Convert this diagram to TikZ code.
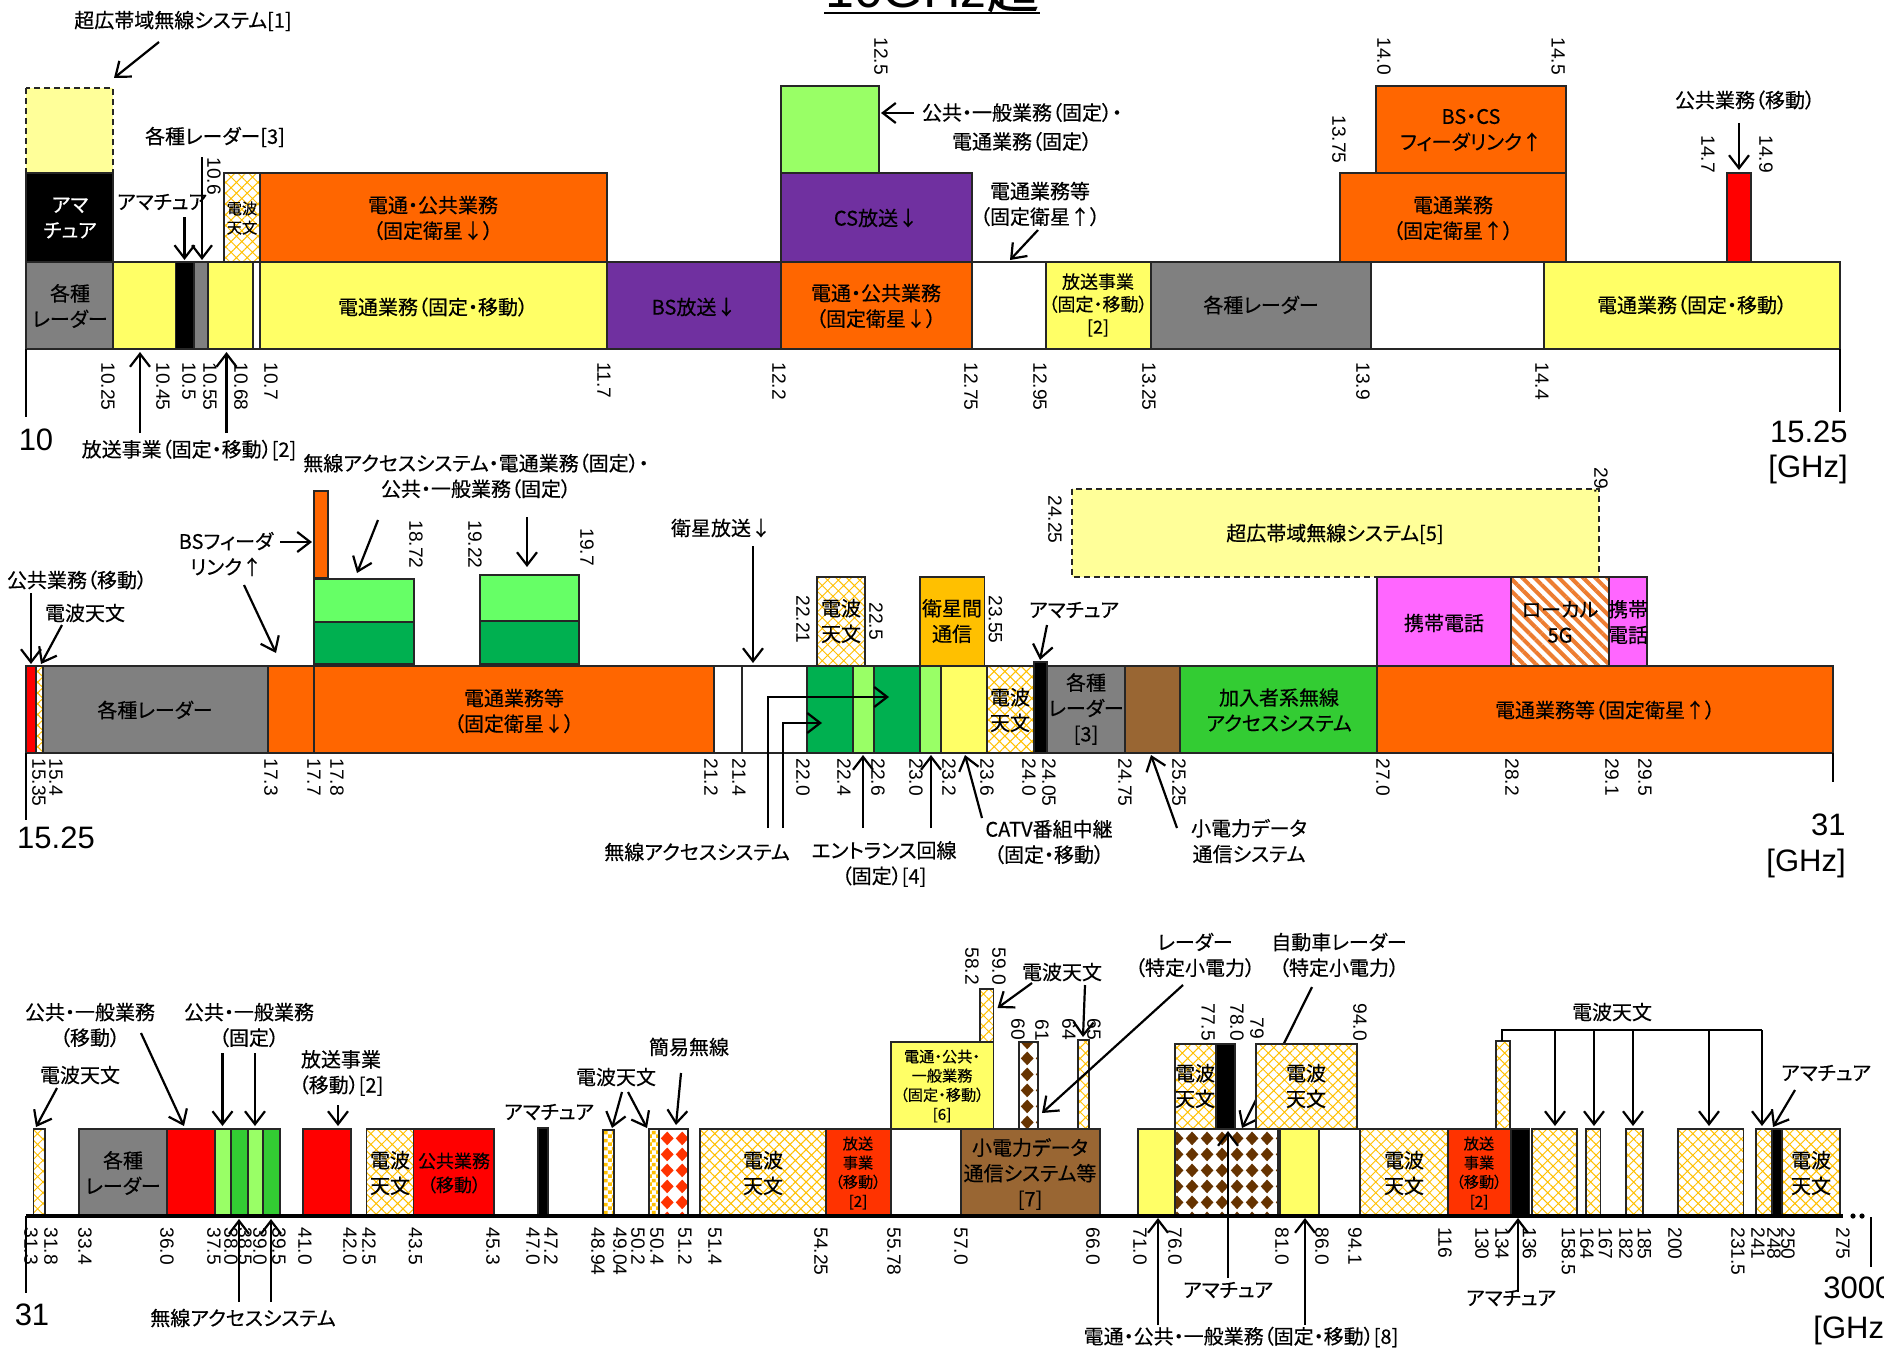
\documentclass[tikz,border=0pt]{standalone}
\usepackage{fontspec}
\setmainfont{Liberation Sans}
\newfontfamily\jp[RawFeature=+palt,FakeBold=0.35]{Noto Sans CJK JP}
\usetikzlibrary{arrows.meta,patterns,patterns.meta}

% 色
\definecolor{cYel}{HTML}{FFFF66}
\definecolor{cUwb}{HTML}{FFFF99}
\definecolor{cOra}{HTML}{FF6600}
\definecolor{cPur}{HTML}{7030A0}
\definecolor{cGry}{HTML}{808080}
\definecolor{cLgr}{HTML}{99FF66}
\definecolor{cGrn}{HTML}{66FF66}
\definecolor{cDgr}{HTML}{00B050}
\definecolor{cMgr}{HTML}{33CC33}
\definecolor{cAmb}{HTML}{FFC000}
\definecolor{cBrn}{HTML}{996633}
\definecolor{cDbr}{HTML}{663300}
\definecolor{cMag}{HTML}{FF66FF}
\definecolor{cRed}{HTML}{FF0000}
\definecolor{cRor}{HTML}{FF3300}
\definecolor{cStr}{HTML}{ED7D31}

% 模様
\pgfdeclarepatternformonly{rhombs}{\pgfpointorigin}{\pgfpoint{7.5pt}{8pt}}{\pgfpoint{7.5pt}{8pt}}{
  \pgfpathmoveto{\pgfpoint{3.75pt}{0.4pt}}
  \pgfpathlineto{\pgfpoint{7.1pt}{4pt}}
  \pgfpathlineto{\pgfpoint{3.75pt}{7.6pt}}
  \pgfpathlineto{\pgfpoint{0.4pt}{4pt}}
  \pgfpathclose\pgfusepath{fill}}
\pgfdeclarepatternformonly{smallcheck}{\pgfpointorigin}{\pgfpoint{4pt}{4pt}}{\pgfpoint{4pt}{4pt}}{
  \pgfpathrectangle{\pgfpointorigin}{\pgfpoint{2pt}{2pt}}
  \pgfpathrectangle{\pgfpoint{2pt}{2pt}}{\pgfpoint{2pt}{2pt}}
  \pgfusepath{fill}}

\begin{document}
\begin{tikzpicture}[x=0.5pt,y=-0.5pt,>={Straight Barb[length=6.5pt,width=10pt]},
  box/.style={draw=black!85,line width=0.8pt},
  uwb/.style={box,dash pattern=on 3pt off 2pt,fill=cUwb},
  astro/.style={fill=white,postaction={pattern={Hatch[angle=45,distance=3.8pt,line width=0.5pt]},pattern color=cAmb},postaction={box}},
  chk/.style={fill=white,postaction={pattern=smallcheck,pattern color=cAmb},postaction={box}},
  rdia/.style={fill=white,postaction={pattern=rhombs,pattern color=cRor},postaction={box}},
  bdia/.style={fill=white,postaction={pattern=rhombs,pattern color=cDbr},postaction={box}},
  loc/.style={fill=white,postaction={pattern={Lines[angle=-45,distance=4.3pt,line width=2pt]},pattern color=cStr},postaction={box}},
  lab/.style={inner sep=0pt,align=center,font=\jp\fontsize{10}{12.8}\selectfont},
  sml/.style={inner sep=0pt,align=center,font=\jp\fontsize{7.6}{9.6}\selectfont},
  tick/.style={rotate=-90,anchor=west,inner sep=0pt,font=\fontsize{9.6}{10}\selectfont},
  big/.style={inner sep=0pt,font=\fontsize{15.5}{17}\selectfont},
  arr/.style={->,line width=1.1pt},
  axl/.style={line width=1pt}]

\fill[white] (0,0) rectangle (1884,1354);
\useasboundingbox (0,0) rectangle (1884,1354);

% 表題
\node[anchor=base,inner sep=0pt,font=\fontsize{26}{28}\selectfont] (ttl) at (932,8) {10GHz{\jp 超}};
\draw[line width=1.2pt] (824,13) -- (1040,13);

% ===== 上段 10 - 15.25 GHz =====
\draw[uwb] (26,88) rectangle (113,173);
\draw[box,fill=black] (26,173) rectangle (113,262);
\draw[box,fill=cGry] (26,262) rectangle (113,349);
\draw[box,fill=cYel] (113,262) rectangle (175.5,349);
\draw[box,fill=black] (175.5,262) rectangle (194,349);
\draw[box,fill=cGry] (194,262) rectangle (208,349);
\draw[box,fill=cYel] (208,262) rectangle (253,349);
\draw[box,fill=white] (253,262) rectangle (260,349);
\draw[box,fill=cYel] (260,262) rectangle (607,349);
\path[astro] (224,173) rectangle (260,262);
\draw[box,fill=cOra] (260,173) rectangle (607,262);
\draw[box,fill=cPur] (607,262) rectangle (781,349);
\draw[box,fill=cLgr] (781,86) rectangle (879,173);
\draw[box,fill=cPur] (781,173) rectangle (972,262);
\draw[box,fill=cOra] (781,262) rectangle (972,349);
\draw[box,fill=white] (972,262) rectangle (1046,349);
\draw[box,fill=cYel] (1046,262) rectangle (1151,349);
\draw[box,fill=cGry] (1151,262) rectangle (1371,349);
\draw[box,fill=white] (1371,262) rectangle (1544,349);
\draw[box,fill=cYel] (1544,262) rectangle (1840,349);
\draw[box,fill=cOra] (1376,86) rectangle (1566,173);
\draw[box,fill=cOra] (1340,173) rectangle (1566,262);
\draw[box,fill=cRed] (1727,173) rectangle (1751,262);
\draw[axl] (26,349) -- (26,417);
\draw[axl] (1840,349) -- (1840,412);

\node[lab,text=white] (ama1) at (70,218) {アマ\\チュア};
\node[lab] (rad1) at (70,306) {各種\\レーダー};
\node[sml] (ast1) at (242,218) {電波\\天文};
\node[lab] (ora1) at (433,218) {電通・公共業務\\（固定衛星↓）};
\node[lab] (yel1) at (433,307) {電通業務（固定・移動）};
\node[lab] (bs1) at (694,307) {BS放送↓};
\node[lab] (cs1) at (876,218) {CS放送↓};
\node[lab] (ora2) at (876,306) {電通・公共業務\\（固定衛星↓）};
\node[lab,font=\jp\fontsize{9}{11.3}\selectfont] (yel2) at (1098,305) {放送事業\\（固定・移動）\\{[2]}};
\node[lab] (rad2) at (1261,305) {各種レーダー};
\node[lab] (yel3) at (1692,305) {電通業務（固定・移動）};
\node[lab] (ora3) at (1453,218) {電通業務\\（固定衛星↑）};
\node[lab] (bscs) at (1471,130) {BS・CS\\フィーダリンク↑};

\node[lab] (uwb1) at (183,21) {超広帯域無線システム[1]};
\draw[arr] (159,42) -- (114,78);
\node[lab] (rad3) at (215,137) {各種レーダー[3]};
\draw[arr] (202,157) -- (202,260);
\node[lab] (ama2) at (162,202) {アマチュア};
\draw[arr] (184.5,217) -- (184.5,260);
\node[lab] (hos1) at (189,450) {放送事業（固定・移動）[2]};
\draw[arr] (140,433) -- (140,352);
\draw[arr] (226.5,433) -- (226.5,352);
\node[lab,font=\jp\fontsize{10}{14.5}\selectfont] (kok1) at (1022,127) {公共・一般業務（固定）・\\電通業務（固定）};
\draw[arr] (914,113) -- (881,113);
\node[lab] (den1) at (1040,204) {電通業務等\\（固定衛星↑）};
\draw[arr] (1038,230) -- (1010,260);
\node[lab] (kok2) at (1745,100) {公共業務（移動）};
\draw[arr] (1739,123) -- (1739,170);

\node[tick] (k10-25) at (108,362) {10.25};
\node[tick] (k10-45) at (163,362) {10.45};
\node[tick] (k10-5) at (189,362) {10.5};
\node[tick] (k10-55) at (210,362) {10.55};
\node[tick] (k10-68) at (241,362) {10.68};
\node[tick] (k10-7) at (271,362) {10.7};
\node[tick] (k11-7) at (604,362) {11.7};
\node[tick] (k12-2) at (779,362) {12.2};
\node[tick] (k12-75) at (971,362) {12.75};
\node[tick] (k12-95) at (1040,362) {12.95};
\node[tick] (k13-25) at (1149,362) {13.25};
\node[tick] (k13-9) at (1363,362) {13.9};
\node[tick] (k14-4) at (1542,362) {14.4};
\node[tick] (k10-6) at (214,157) {10.6};
\node[tick] (k12-5) at (881,37) {12.5};
\node[tick] (k14-0) at (1384,37) {14.0};
\node[tick] (k14-5) at (1558,37) {14.5};
\node[tick] (k13-75) at (1339,115) {13.75};
\node[tick] (k14-7) at (1708,135) {14.7};
\node[tick] (k14-9) at (1766,135) {14.9};

\node[big] (n10) at (36,440) {10};
\node[big,anchor=east] (n15) at (1848,432) {15.25};
\node[big,anchor=east] (ghz1) at (1848,469) {[GHz]};

% ===== 中段 15.25 - 31 GHz =====
\draw[box,fill=cRed] (26,666) rectangle (36,753);
\path[astro] (36,666) rectangle (43,753);
\draw[box,fill=cGry] (43,666) rectangle (268,753);
\draw[box,fill=cOra] (268,666) rectangle (314,753);
\draw[box,fill=cOra] (314,666) rectangle (714,753);
\draw[box,fill=cOra] (314,491) rectangle (328,578);
\draw[box,fill=cGrn] (314,579) rectangle (414,622);
\draw[box,fill=cDgr] (314,622) rectangle (414,664);
\draw[box,fill=cGrn] (480,575) rectangle (579,621);
\draw[box,fill=cDgr] (480,621) rectangle (579,664);
\draw[box,fill=white] (714,666) rectangle (742,753);
\draw[box,fill=white] (742,666) rectangle (807,753);
\draw[box,fill=cDgr] (807,666) rectangle (853,753);
\draw[box,fill=cLgr] (853,666) rectangle (874,753);
\draw[box,fill=cDgr] (874,666) rectangle (920,753);
\draw[box,fill=cLgr] (920,666) rectangle (941,753);
\draw[box,fill=cYel] (941,666) rectangle (987,753);
\path[astro] (987,666) rectangle (1034,753);
\draw[box,fill=black] (1034,662) rectangle (1047,753);
\draw[box,fill=cGry] (1047,666) rectangle (1125,753);
\draw[box,fill=cBrn] (1125,666) rectangle (1180,753);
\draw[box,fill=cMgr] (1180,666) rectangle (1377,753);
\draw[box,fill=cOra] (1377,666) rectangle (1833,753);
\path[astro] (817,577) rectangle (865,666);
\draw[box,fill=cAmb] (920,577) rectangle (984.5,666);
\draw[uwb] (1072,489) rectangle (1599,577);
\draw[box,fill=cMag] (1377,577) rectangle (1511,666);
\path[loc] (1511,577) rectangle (1609,666);
\draw[box,fill=cMag] (1609,577) rectangle (1647,666);
\draw[axl] (26,753) -- (26,820);
\draw[axl] (1833,753) -- (1833,782);

\node[lab] (rad4) at (155,710) {各種レーダー};
\node[lab] (ora4) at (514,711) {電通業務等\\（固定衛星↓）};
\node[lab] (ast2) at (841,621) {電波\\天文};
\node[lab] (sat1) at (952,621) {衛星間\\通信};
\node[lab] (ast3) at (1010,710) {電波\\天文};
\node[lab] (rad5) at (1086,709) {各種\\レーダー\\{[3]}};
\node[lab] (kan1) at (1279,710) {加入者系無線\\アクセスシステム};
\node[lab] (ora5) at (1605,710) {電通業務等（固定衛星↑）};
\node[lab] (uwb2) at (1335,534) {超広帯域無線システム[5]};
\node[lab] (mob1) at (1444,623) {携帯電話};
\node[lab] (loc5) at (1560,622) {ローカル\\5G};
\node[lab] (mob2) at (1628,622) {携帯\\電話};

\node[lab] (kok3) at (77,580) {公共業務（移動）};
\draw[arr] (31,593) -- (31,664);
\node[lab] (ast4) at (85,613) {電波天文};
\draw[arr] (62,625) -- (41,664);
\node[lab] (bsf) at (226,554) {BSフィーダ\\リンク↑};
\draw[arr] (280,542) -- (312,542);
\draw[arr] (244,585) -- (276,653);
\node[lab] (mus1) at (476,476) {無線アクセスシステム・電通業務（固定）・\\公共・一般業務（固定）};
\draw[arr] (378,520) -- (357,573);
\draw[arr] (527,517) -- (527,567);
\node[lab] (eis1) at (721,528) {衛星放送↓};
\draw[arr] (753,546) -- (753,663);
\node[lab] (ama3) at (1074,610) {アマチュア};
\draw[arr] (1047,625) -- (1040,660);
\node[lab] (mus2) at (697,852) {無線アクセスシステム};
\draw[arr] (768,828) -- (768,697) -- (889,697);
\draw[arr] (783,828) -- (783,723) -- (822,723);
\node[lab] (ent1) at (884,864) {エントランス回線\\（固定）[4]};
\draw[arr] (863,828) -- (863,755);
\draw[arr] (931,828) -- (931,755);
\node[lab] (cat1) at (1049,842) {CATV番組中継\\（固定・移動）};
\draw[arr] (982,818) -- (965,755);
\node[lab] (sho1) at (1249,841) {小電力データ\\通信システム};
\draw[arr] (1177,828) -- (1151,755);

\node[tick] (k15-35) at (39,758) {15.35};
\node[tick] (k15-4) at (56,758) {15.4};
\node[tick] (k17-3) at (271,758) {17.3};
\node[tick] (k17-7) at (314,758) {17.7};
\node[tick] (k17-8) at (337,758) {17.8};
\node[tick] (k21-2) at (711,758) {21.2};
\node[tick] (k21-4) at (739,758) {21.4};
\node[tick] (k22-0) at (803,758) {22.0};
\node[tick] (k22-4) at (844,758) {22.4};
\node[tick] (k22-6) at (878,758) {22.6};
\node[tick] (k23-0) at (916,758) {23.0};
\node[tick] (k23-2) at (949,758) {23.2};
\node[tick] (k23-6) at (987,758) {23.6};
\node[tick] (k24-0) at (1029,758) {24.0};
\node[tick] (k24-05) at (1049,758) {24.05};
\node[tick] (k24-75) at (1125,758) {24.75};
\node[tick] (k25-25) at (1179,758) {25.25};
\node[tick] (k27-0) at (1383,758) {27.0};
\node[tick] (k28-2) at (1512,758) {28.2};
\node[tick] (k29-1) at (1612,758) {29.1};
\node[tick] (k29-5) at (1645,758) {29.5};
\node[tick] (k18-72) at (416,520) {18.72};
\node[tick] (k19-22) at (475,520) {19.22};
\node[tick] (k19-7) at (587,528) {19.7};
\node[tick] (k22-21) at (803,595) {22.21};
\node[tick] (k22-5) at (876,602) {22.5};
\node[tick] (k23-55) at (995.5,595) {23.55};
\node[tick] (k24-25) at (1055,495) {24.25};
\node[tick] (k29) at (1601,467) {29.};

\node[big] (n15b) at (56,838) {15.25};
\node[big,anchor=east] (n31) at (1846,825) {31};
\node[big,anchor=east] (ghz2) at (1846,863) {[GHz]};

% ===== 下段 31 - 3000 GHz =====
\path[astro] (33.5,1129) rectangle (45,1216);
\draw[box,fill=cGry] (79,1129) rectangle (167,1216);
\draw[box,fill=cRed] (167,1129) rectangle (215,1216);
\draw[box,fill=cLgr] (215,1129) rectangle (231,1216);
\draw[box,fill=cMgr] (231,1129) rectangle (248,1216);
\draw[box,fill=cLgr] (248,1129) rectangle (263,1216);
\draw[box,fill=cMgr] (263,1129) rectangle (280,1216);
\draw[box,fill=cRed] (303,1129) rectangle (351,1216);
\path[astro] (366.5,1129) rectangle (413.5,1216);
\draw[box,fill=cRed] (413.5,1129) rectangle (494,1216);
\draw[box,fill=black] (538,1128) rectangle (548,1216);
\path[chk] (603,1130) rectangle (614,1216);
\path[chk] (649,1129) rectangle (659,1216);
\path[rdia] (659,1129) rectangle (688,1216);
\path[astro] (700,1129) rectangle (826,1216);
\draw[box,fill=cRor] (826,1129) rectangle (891,1216);
\draw[box,fill=cYel] (891,1042) rectangle (993.5,1129);
\path[astro] (980,989) rectangle (993.5,1042);
\draw[box,fill=cBrn] (961,1129) rectangle (1100,1216);
\path[bdia] (1019,1042) rectangle (1038,1129);
\path[astro] (1078,1040) rectangle (1089,1129);
\draw[box,fill=cYel] (1138,1129) rectangle (1175,1216);
\path[bdia] (1175,1129) rectangle (1278,1216);
\draw[box,fill=cYel] (1280,1129) rectangle (1319,1216);
\draw[box,fill=white] (1319,1129) rectangle (1360,1216);
\path[astro] (1360,1129) rectangle (1448,1216);
\draw[box,fill=cRor] (1448,1129) rectangle (1511,1216);
\draw[box,fill=black] (1511,1129) rectangle (1529.5,1216);
\path[astro] (1496,1041) rectangle (1510,1129);
\path[astro] (1532,1129) rectangle (1577,1216);
\path[astro] (1586,1129) rectangle (1600.5,1216);
\path[astro] (1626,1129) rectangle (1643,1216);
\path[astro] (1678,1129) rectangle (1743.5,1216);
\path[astro] (1756,1129) rectangle (1772,1216);
\draw[box,fill=black] (1772,1129) rectangle (1782,1216);
\path[astro] (1782,1129) rectangle (1840,1216);
% 自動車レーダーの矢印は箱の下を通る
\node[lab] (car1) at (1339,955) {自動車レーダー\\（特定小電力）};
\draw[arr] (1312,987) -- (1242,1128);
\path[astro] (1175,1044) rectangle (1216,1129);
\draw[box,fill=black] (1216,1044) rectangle (1235,1129);
\path[astro] (1256,1044) rectangle (1357,1129);

\draw[line width=2pt] (26,1216) -- (1843,1216);
\fill (1853,1216) circle[radius=1.3pt];
\fill (1862,1216) circle[radius=1.3pt];
\draw[axl] (1871,1217) -- (1871,1267);
\draw[axl] (26,1216) -- (26,1293);

\node[lab] (rad6) at (123,1173) {各種\\レーダー};
\node[lab] (ast5) at (390,1173) {電波\\天文};
\node[lab,font=\jp\fontsize{9}{12}\selectfont] (kok4) at (454,1173) {公共業務\\（移動）};
\node[lab] (ast6) at (763,1173) {電波\\天文};
\node[sml] (hos2) at (858,1173) {放送\\事業\\（移動）\\{[2]}};
\node[sml] (den2) at (942,1086) {電通・公共・\\一般業務\\（固定・移動）\\{[6]}};
\node[lab] (sho2) at (1030,1174) {小電力データ\\通信システム等\\{[7]}};
\node[lab] (ast7) at (1195,1086) {電波\\天文};
\node[lab] (ast8) at (1306,1086) {電波\\天文};
\node[lab] (ast9) at (1404,1173) {電波\\天文};
\node[sml] (hos3) at (1479,1173) {放送\\事業\\（移動）\\{[2]}};
\node[lab] (ast10) at (1811,1173) {電波\\天文};

\node[lab] (ast11) at (80,1075) {電波天文};
\draw[arr] (57,1088) -- (36,1127);
\node[lab] (kok5) at (90,1025) {公共・一般業務\\（移動）};
\draw[arr] (141,1033) -- (184,1126);
\node[lab] (kok6) at (249,1025) {公共・一般業務\\（固定）};
\draw[arr] (222.5,1053) -- (222.5,1126);
\draw[arr] (255,1053) -- (255,1126);
\node[lab] (mus3) at (243,1318) {無線アクセスシステム};
\draw[arr] (239,1302) -- (239,1219);
\draw[arr] (271,1302) -- (271,1219);
\node[lab] (hos4) at (341,1073) {放送事業\\（移動）[2]};
\draw[arr] (338,1105) -- (338,1126);
\node[lab] (ama4) at (549,1112) {アマチュア};
\node[lab] (ast12) at (616,1077) {電波天文};
\draw[arr] (622,1092) -- (612,1128);
\draw[arr] (628,1092) -- (647,1128);
\node[lab] (kan2) at (689,1047) {簡易無線};
\draw[arr] (681,1073) -- (676,1125);
\node[lab] (ast13) at (1062,972) {電波天文};
\draw[arr] (1032,983) -- (997.5,1008);
\draw[arr] (1085,985) -- (1083,1037);
\node[lab] (rad7) at (1195,955) {レーダー\\（特定小電力）};
\draw[arr] (1183,985) -- (1042,1113);
\node[lab] (ama5) at (1228,1290) {アマチュア};
\draw[arr] (1228,1278) -- (1228,1131);
\node[lab] (den3) at (1241,1337) {電通・公共・一般業務（固定・移動）[8]};
\draw[arr] (1158,1325) -- (1158,1218);
\draw[arr] (1305,1325) -- (1305,1218);
\node[lab] (ast14) at (1612,1012) {電波天文};
\draw[axl] (1502,1041) -- (1502,1030) -- (1762,1030);
\draw[arr] (1555,1030) -- (1555,1126);
\draw[arr] (1594,1030) -- (1594,1126);
\draw[arr] (1633,1030) -- (1633,1126);
\draw[arr] (1709,1030) -- (1709,1126);
\draw[arr] (1762,1030) -- (1762,1126);
\node[lab] (ama6) at (1826,1073) {アマチュア};
\draw[arr] (1795,1090) -- (1773,1127);
\node[lab] (ama7) at (1511,1298) {アマチュア};
\draw[arr] (1518,1292) -- (1518,1218);

\node[tick] (k31-3) at (31,1227) {31.3};
\node[tick] (k31-8) at (51,1227) {31.8};
\node[tick] (k33-4) at (85,1227) {33.4};
\node[tick] (k36-0) at (167,1227) {36.0};
\node[tick] (k37-5) at (214,1227) {37.5};
\node[tick] (k38-0) at (231,1227) {38.0};
\node[tick] (k38-5) at (245,1227) {38.5};
\node[tick] (k39-0) at (260,1227) {39.0};
\node[tick] (k39-5) at (279,1227) {39.5};
\node[tick] (k41-0) at (305,1227) {41.0};
\node[tick] (k42-0) at (350,1227) {42.0};
\node[tick] (k42-5) at (369,1227) {42.5};
\node[tick] (k43-5) at (415.5,1227) {43.5};
\node[tick] (k45-3) at (493,1227) {45.3};
\node[tick] (k47-0) at (533,1227) {47.0};
\node[tick] (k47-2) at (551,1227) {47.2};
\node[tick] (k48-94) at (598,1227) {48.94};
\node[tick] (k49-04) at (620,1227) {49.04};
\node[tick] (k50-2) at (638,1227) {50.2};
\node[tick] (k50-4) at (657,1227) {50.4};
\node[tick] (k51-2) at (685,1227) {51.2};
\node[tick] (k51-4) at (715,1227) {51.4};
\node[tick] (k54-25) at (821,1227) {54.25};
\node[tick] (k55-78) at (894,1227) {55.78};
\node[tick] (k57-0) at (961,1227) {57.0};
\node[tick] (k66-0) at (1093,1227) {66.0};
\node[tick] (k71-0) at (1140,1227) {71.0};
\node[tick] (k76-0) at (1175,1227) {76.0};
\node[tick] (k81-0) at (1282,1227) {81.0};
\node[tick] (k86-0) at (1322,1227) {86.0};
\node[tick] (k94-1) at (1355,1227) {94.1};
\node[tick] (k116) at (1445,1227) {116};
\node[tick] (k130) at (1482,1227) {130};
\node[tick] (k134) at (1502,1227) {134};
\node[tick] (k136) at (1529.5,1227) {136};
\node[tick] (k158-5) at (1568.5,1227) {158.5};
\node[tick] (k164) at (1587,1227) {164};
\node[tick] (k167) at (1605.5,1227) {167};
\node[tick] (k182) at (1626,1227) {182};
\node[tick] (k185) at (1644.5,1227) {185};
\node[tick] (k200) at (1675,1227) {200};
\node[tick] (k231-5) at (1738,1227) {231.5};
\node[tick] (k241) at (1758,1227) {241};
\node[tick] (k248) at (1774,1227) {248};
\node[tick] (k250) at (1788,1227) {250};
\node[tick] (k275) at (1843,1227) {275};
\node[tick] (k58-2) at (972,947) {58.2};
\node[tick] (k59-0) at (999,947) {59.0};
\node[tick] (k60) at (1018,1018) {60};
\node[tick] (k61) at (1042,1019) {61};
\node[tick] (k64) at (1069,1018) {64};
\node[tick] (k65) at (1094,1018) {65};
\node[tick] (k77-5) at (1208,1003) {77.5};
\node[tick] (k78-0) at (1237,1003) {78.0};
\node[tick] (k79) at (1257,1017) {79};
\node[tick] (k94-0) at (1360,1003) {94.0};

\node[big] (n31b) at (32,1315) {31};
\node[big,anchor=west] (n3000) at (1823,1288) {3000};
\node[big,anchor=west] (ghz3) at (1813,1330) {[GHz]};
\end{tikzpicture}
\end{document}
